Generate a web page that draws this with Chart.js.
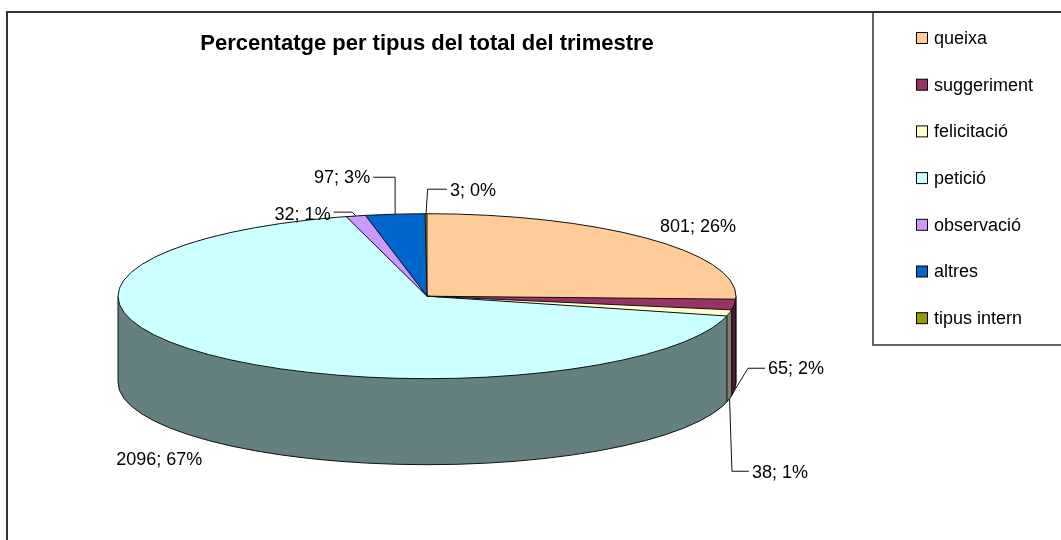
<!DOCTYPE html>
<html>
<head>
<meta charset="utf-8">
<script src="https://cdn.jsdelivr.net/npm/chart.js@4.4.0/dist/chart.umd.min.js"></script>
<style>
  html, body { margin: 0; padding: 0; background: #fff; }
</style>
</head>
<body>
<canvas id="pieChart" width="1061" height="540"></canvas>
<script>
// Data
const categories = ['queixa', 'suggeriment', 'felicitació', 'petició', 'observació', 'altres', 'tipus intern'];
const counts = [801, 65, 38, 2096, 32, 97, 3];
const chartTitle = 'Percentatge per tipus del total del trimestre';

// Colours: top face and darker side wall
const topColors = ['#FFCC99', '#993366', '#FFFFCC', '#CCFFFF', '#CC99FF', '#0066CC', '#999900'];
const sideColors = ['#806650', '#4D1A33', '#808066', '#668080', '#664D80', '#003366', '#4D4D00'];

// 3D look
const tilt = 82.5 / 309;   // vertical squash of the pie
const depth = 86;          // height of the side wall in px
const edgeColor = '#111';
const labelFont = '18px "Liberation Sans", Arial, sans-serif';

// where each data label sits, relative to the point on the slice edge
const labelPlacement = [
    { dx: 48.6, dy: -11.7, align: 'center' },
    { dx: 33.6, dy: -21.3, align: 'left', elbow: 13.6, lineDy: -1 },
    { dx: 22.4, dy: 74.3, align: 'left', elbow: 2.4, lineDy: -2 },
    { dx: -51.7, dy: 19, align: 'center' },
    { dx: -25.1, dy: -0.8, align: 'right', elbow: -3.4, lineDy: -3 },
    { dx: -25, dy: -35.9, align: 'right', elbow: 0, lineDy: -1 },
    { dx: 23.9, dy: -22.5, align: 'left', elbow: 1.5, lineDy: -2 }
];

function geom(chart) {
    const arcs = chart.getDatasetMeta(0).data;
    const a = arcs[0];
    return { arcs, cx: a.x, cy: a.y, rx: a.outerRadius, ry: a.outerRadius * tilt };
}

function squash(ctx, g, dy) {
    ctx.translate(g.cx, g.cy + dy);
    ctx.scale(1, tilt);
    ctx.translate(-g.cx, -g.cy);
}

function edgePoint(g, ang, dy) {
    return { x: g.cx + g.rx * Math.cos(ang), y: g.cy + g.ry * Math.sin(ang) + (dy || 0) };
}

const pie3d = {
    id: 'pie3d',
    beforeDatasetsDraw(chart) {
        const ctx = chart.ctx;
        const g = geom(chart);
        // side wall: stack of darker copies of the slices
        for (let dy = depth; dy >= 1; dy--) {
            g.arcs.forEach((arc, i) => {
                const keep = arc.options;
                arc.options = Object.assign({}, keep, { backgroundColor: sideColors[i], borderWidth: 0 });
                ctx.save();
                squash(ctx, g, dy);
                arc.draw(ctx);
                ctx.restore();
                arc.options = keep;
            });
        }
        ctx.save();
        ctx.strokeStyle = edgeColor;
        ctx.lineWidth = 1;
        ctx.beginPath();
        ctx.ellipse(g.cx, g.cy + depth, g.rx, g.ry, 0, 0, Math.PI);
        ctx.stroke();
        const verts = [0, Math.PI];
        g.arcs.forEach(arc => {
            if (Math.sin(arc.endAngle) > 0) verts.push(arc.endAngle);
        });
        verts.forEach(a => {
            const p = edgePoint(g, a);
            ctx.beginPath();
            ctx.moveTo(p.x, p.y);
            ctx.lineTo(p.x, p.y + depth);
            ctx.stroke();
        });
        ctx.restore();
    },
    beforeDatasetDraw(chart) {
        chart.ctx.save();
        squash(chart.ctx, geom(chart), 0);
    },
    afterDatasetDraw(chart) {
        chart.ctx.restore();
    },
    afterDatasetsDraw(chart) {
        const ctx = chart.ctx;
        const g = geom(chart);
        ctx.save();
        ctx.strokeStyle = edgeColor;
        ctx.lineWidth = 1;
        ctx.beginPath();
        ctx.ellipse(g.cx, g.cy, g.rx, g.ry, 0, 0, Math.PI * 2);
        ctx.stroke();
        g.arcs.forEach(arc => {
            const p = edgePoint(g, arc.startAngle);
            ctx.beginPath();
            ctx.moveTo(g.cx, g.cy);
            ctx.lineTo(p.x, p.y);
            ctx.stroke();
        });

        // data labels "value; pct%"
        const total = counts.reduce((s, v) => s + v, 0);
        ctx.font = labelFont;
        ctx.fillStyle = '#000';
        ctx.textBaseline = 'middle';
        g.arcs.forEach((arc, i) => {
            const mid = (arc.startAngle + arc.endAngle) / 2;
            const front = Math.sin(mid) > 0;
            const anchor = edgePoint(g, mid, front ? depth : 0);
            const L = labelPlacement[i];
            const tx = anchor.x + L.dx;
            const ty = anchor.y + L.dy;
            const text = counts[i] + '; ' + Math.round(counts[i] / total * 100) + '%';
            ctx.textAlign = L.align;
            ctx.fillText(text, tx, ty);
            if (L.elbow !== undefined) {
                const sx = L.align === 'left' ? tx - 3 : tx + 3;
                const ly = ty + L.lineDy;
                ctx.beginPath();
                ctx.moveTo(sx, ly);
                ctx.lineTo(anchor.x + L.elbow, ly);
                ctx.lineTo(anchor.x, anchor.y);
                ctx.stroke();
            }
        });
        ctx.restore();
    },
    afterDraw(chart) {
        const ctx = chart.ctx;
        ctx.save();
        // outer frame (only top and left edges are in view)
        ctx.strokeStyle = '#333';
        ctx.lineWidth = 2;
        ctx.beginPath();
        ctx.moveTo(7, 540);
        ctx.lineTo(7, 12);
        ctx.lineTo(1061, 12);
        ctx.stroke();
        // legend box
        ctx.lineWidth = 1.5;
        ctx.beginPath();
        ctx.moveTo(873, 12);
        ctx.lineTo(873, 345);
        ctx.lineTo(1061, 345);
        ctx.stroke();
        // legend items
        ctx.font = labelFont;
        ctx.textAlign = 'left';
        ctx.textBaseline = 'middle';
        ctx.lineWidth = 1;
        categories.forEach((name, i) => {
            const y = 38 + i * 46.7;
            ctx.fillStyle = topColors[i];
            ctx.fillRect(916.5, y - 5.5, 11, 11);
            ctx.strokeStyle = '#000';
            ctx.strokeRect(916.5, y - 5.5, 11, 11);
            ctx.fillStyle = '#000';
            ctx.fillText(name, 934, y + 1);
        });
        ctx.restore();
    }
};

const chart = new Chart(document.getElementById('pieChart'), {
    type: 'pie',
    data: {
        labels: categories,
        datasets: [{
            data: counts,
            backgroundColor: topColors,
            borderWidth: 0,
            radius: 309,
            clip: false
        }]
    },
    options: {
        responsive: false,
        animation: false,
        events: [],
        layout: { padding: { left: 0, right: 207, top: 0, bottom: 5 } },
        plugins: {
            legend: { display: false },
            tooltip: { enabled: false },
            title: {
                display: true,
                text: chartTitle,
                fullSize: false,
                color: '#000',
                font: { family: '"Liberation Sans", Arial, sans-serif', size: 22, weight: 'bold' },
                padding: { top: 31, bottom: 0 }
            }
        }
    },
    plugins: [pie3d]
});
</script>
</body>
</html>
